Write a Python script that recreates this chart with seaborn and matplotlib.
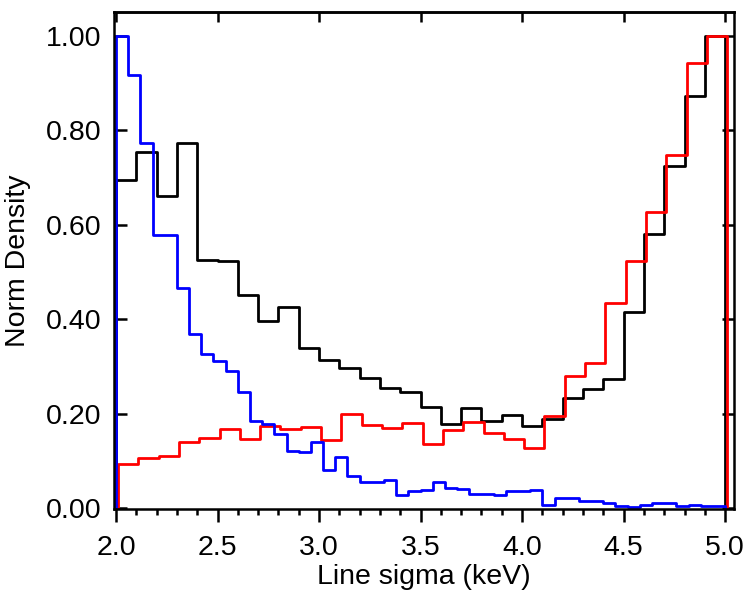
import numpy as np
import pandas as pd
import matplotlib
matplotlib.use("Agg")
import matplotlib.pyplot as plt
import seaborn as sns
from matplotlib.ticker import MultipleLocator, FormatStrFormatter

# bin layout of the three histograms (keV)
black_start = 2.0
red_start = 2.01
blue_start = 2.0
wide_bin = 0.1
narrow_bin = 0.06

# normalised densities
black_density = [0.695, 0.754, 0.660, 0.773, 0.526, 0.522, 0.451, 0.396, 0.425, 0.338,
                 0.314, 0.297, 0.275, 0.253, 0.246, 0.213, 0.177, 0.211, 0.184, 0.196,
                 0.174, 0.189, 0.232, 0.251, 0.274, 0.415, 0.581, 0.723, 0.872, 1.000]

red_density = [0.093, 0.105, 0.109, 0.139, 0.149, 0.168, 0.146, 0.174, 0.167, 0.171,
               0.143, 0.198, 0.175, 0.170, 0.179, 0.135, 0.165, 0.181, 0.158, 0.146,
               0.127, 0.195, 0.279, 0.307, 0.435, 0.523, 0.627, 0.747, 0.943, 1.000]

blue_density = [1.000, 0.916, 0.772, 0.577, 0.577, 0.465, 0.368, 0.325, 0.312, 0.291,
                0.246, 0.185, 0.178, 0.156, 0.121, 0.118, 0.140, 0.081, 0.107, 0.068,
                0.056, 0.056, 0.060, 0.027, 0.037, 0.039, 0.056, 0.042, 0.040, 0.030,
                0.030, 0.028, 0.035, 0.037, 0.039, 0.007, 0.022, 0.022, 0.015, 0.015,
                0.010, 0.005, 0.003, 0.006, 0.010, 0.010, 0.005, 0.007, 0.005, 0.005]

sns.set_style("ticks", {"axes.edgecolor": "black", "xtick.color": "black",
                        "ytick.color": "black", "text.color": "black",
                        "axes.labelcolor": "black"})
plt.rcParams['font.family'] = ['Liberation Sans', 'DejaVu Sans']
plt.rcParams['font.size'] = 20.5

fig, ax = plt.subplots(figsize=(7.5, 6), dpi=100)
fig.subplots_adjust(left=0.152, right=0.979, top=0.98, bottom=0.151)


def draw_hist(values, start, width, color):
    edges = start + width * np.arange(len(values) + 1)
    df = pd.DataFrame({"center": edges[:-1] + width / 2, "density": values})
    sns.histplot(data=df, x="center", weights="density", bins=list(edges),
                 element="step", fill=False, color=color, linewidth=2.0, ax=ax)
    # close the outline down to zero at both ends
    ax.vlines([edges[0], edges[-1]], 0, [values[0], values[-1]], color=color, linewidth=2.0)


draw_hist(black_density, black_start, wide_bin, "black")
draw_hist(red_density, red_start, wide_bin, "red")
draw_hist(blue_density, blue_start, narrow_bin, "blue")

ax.set_xlim(1.99, 5.045)
ax.set_ylim(-0.003, 1.05)

ax.xaxis.set_major_locator(MultipleLocator(0.5))
ax.xaxis.set_minor_locator(MultipleLocator(0.1))
ax.xaxis.set_major_formatter(FormatStrFormatter('%.1f'))
ax.yaxis.set_major_locator(MultipleLocator(0.2))
ax.yaxis.set_major_formatter(FormatStrFormatter('%.2f'))

ax.tick_params(axis='x', which='major', direction='out', length=9, width=1.8, pad=9.5,
               bottom=True, top=False)
ax.tick_params(axis='x', which='minor', direction='out', length=4, width=1.8,
               bottom=True, top=False)
ax.tick_params(axis='y', which='major', direction='in', length=9, width=1.8, pad=9,
               left=True, right=True)

top = ax.secondary_xaxis('top')
top.xaxis.set_major_locator(MultipleLocator(0.5))
top.tick_params(axis='x', direction='in', length=7.5, width=1.8, labeltop=False, top=True)
top.spines['top'].set_linewidth(1.8)

for side in ['left', 'right', 'bottom', 'top']:
    ax.spines[side].set_visible(True)
    ax.spines[side].set_linewidth(1.8)

ax.set_xlabel("Line sigma (keV)", labelpad=2)
ax.set_ylabel("Norm Density", labelpad=11)

plt.savefig("out.png", dpi=100)
